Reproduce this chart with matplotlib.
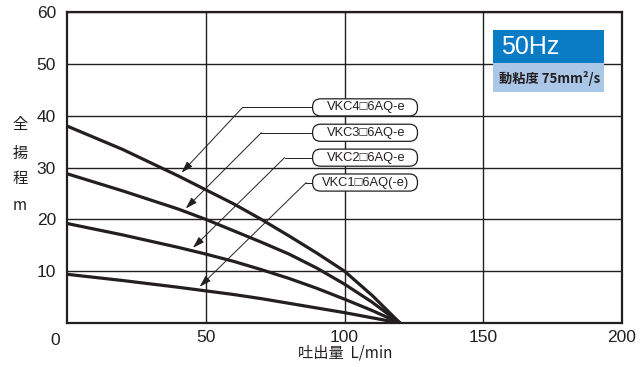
import matplotlib
matplotlib.use("Agg")
import matplotlib.pyplot as plt
from matplotlib.patches import FancyBboxPatch, Rectangle

# ---- data ----
flow = [0, 20, 40, 50, 60, 70, 80, 90, 100, 110, 120]
vkc4 = [38, 33.5, 28.4, 25.7, 23.0, 20.0, 16.8, 13.5, 10.0, 5.3, 0]
vkc3 = [28.8, 25.5, 22.0, 20.0, 17.8, 15.6, 13.3, 10.6, 7.5, 4.0, 0]
vkc2 = [19.2, 17.0, 14.6, 13.3, 11.9, 10.3, 8.6, 6.7, 4.6, 2.4, 0]
vkc1 = [9.4, 8.2, 6.9, 6.2, 5.5, 4.7, 3.8, 2.9, 2.0, 1.0, 0]
series = [vkc4, vkc3, vkc2, vkc1]
labels = ["VKC4□6AQ-e", "VKC3□6AQ-e", "VKC2□6AQ-e", "VKC1□6AQ(-e)"]
xticks = [50, 100, 150, 200]
yticks = [10, 20, 30, 40, 50, 60]

# leader lines: label y, bend x, arrow tip (x, y)
label_y = [41.6, 36.7, 31.9, 27.1]
bend_x = [63.3, 70.0, 78.4, 86.2]
tips = [(41.3, 29.0), (42.8, 22.1), (45.4, 14.5), (47.8, 7.0)]

FONT = ["Liberation Sans", "Noto Sans CJK JP"]
CJK = ["Noto Sans CJK JP", "DejaVu Sans"]
DARK = "#231f20"

fig = plt.figure(figsize=(6.44, 3.67), dpi=100)
ax = fig.add_axes([67/644, 1-323/367, (622-67)/644, (323-12)/367])
ax.set_xlim(0, 200)
ax.set_ylim(0, 60)
ax.set_xticks(xticks)
ax.set_yticks(yticks)
ax.set_xticklabels([str(v) for v in xticks], fontfamily=FONT, fontsize=12.5, color=DARK)
ax.set_yticklabels([str(v) for v in yticks], fontfamily=FONT, fontsize=12.5, color=DARK)
ax.tick_params(axis="x", length=0, pad=5)
ax.tick_params(axis="y", length=0, pad=8)
ax.grid(True, color=DARK, linewidth=1.0)
ax.set_axisbelow(True)
for s in ax.spines.values():
    s.set_linewidth(1.6)
    s.set_color(DARK)

ax.text(-4.3, -1.9, "0", ha="center", va="top", fontfamily=FONT, fontsize=12.5,
        color=DARK, transform=ax.transData, clip_on=False)

for ys in series:
    ax.plot(flow, ys, color=DARK, linewidth=2.3, solid_capstyle="butt", zorder=3)

# labels with rounded boxes and leader arrows
bx0, bx1 = 88.5, 126.3
bh = 3.3
for lab, ly, bxb, (tx, ty) in zip(labels, label_y, bend_x, tips):
    box = FancyBboxPatch((bx0, ly - bh/2), bx1 - bx0, bh,
                         boxstyle="round,pad=0,rounding_size=2.9",
                         mutation_aspect=0.54, facecolor="white",
                         edgecolor=DARK, linewidth=0.9, zorder=5)
    ax.add_patch(box)
    ax.text((bx0 + bx1)/2 + 0.3, ly, lab, ha="center", va="center",
            fontfamily=FONT, fontsize=9.3, color=DARK, zorder=6)
    ax.plot([bxb, bx0], [ly, ly], color=DARK, linewidth=0.7, zorder=4)
    ax.annotate("", xy=(tx, ty), xytext=(bxb, ly),
                arrowprops=dict(arrowstyle="-|>,head_length=0.7,head_width=0.22",
                                color=DARK, linewidth=0.7, shrinkA=0, shrinkB=0),
                zorder=4)

# 50Hz info boxes (pixel coordinates)
def px(x, y):
    return x/644, 1 - y/367

x0, y0 = px(493, 62.7)
fig.patches.append(Rectangle((x0, y0), (604-493)/644, (62.7-30)/367,
                             transform=fig.transFigure, facecolor="#0a7cc6",
                             edgecolor="none", zorder=10))
x0, y0 = px(493, 92.3)
fig.patches.append(Rectangle((x0, y0), (604-493)/644, (92.3-62.7)/367,
                             transform=fig.transFigure, facecolor="#aac7e8",
                             edgecolor="none", zorder=10))
fig.text(*px(501, 47), "50Hz", fontfamily=FONT, fontsize=18, color="white",
         ha="left", va="center", zorder=11)
fig.text(*px(499, 78), "動粘度 75mm²/s", fontfamily=CJK, fontsize=9.5,
         fontweight="bold", color=DARK, ha="left", va="center", zorder=11)

# axis titles
fig.text(*px(345, 353), "吐出量  L/min", fontfamily=CJK, fontsize=11, color=DARK,
         ha="center", va="center")
for ch, yy in zip(["全", "揚", "程", "m"], [125, 153, 179, 206]):
    fig.text(*px(20, yy), ch, fontfamily=CJK, fontsize=11, color=DARK,
             ha="center", va="center")

fig.savefig("out.png", dpi=100)
